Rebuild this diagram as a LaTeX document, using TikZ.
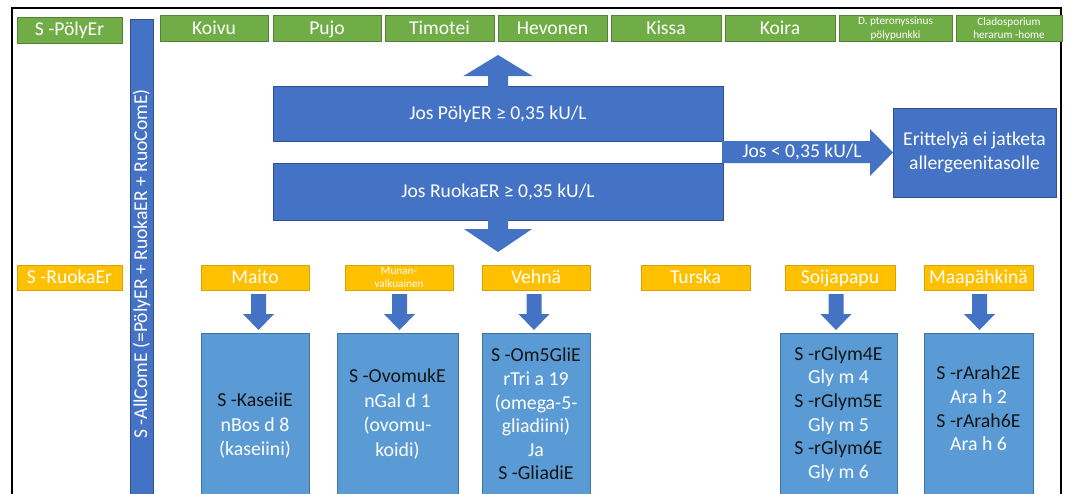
\documentclass[tikz,border=0pt]{standalone}
\usepackage{fontspec}
\setmainfont{Carlito}
\usetikzlibrary{calc}
\definecolor{dblue}{HTML}{4472C4}
\definecolor{dblueline}{HTML}{2F528F}
\definecolor{lblue}{HTML}{5B9BD5}
\definecolor{lblueline}{HTML}{41719C}
\definecolor{ogreen}{HTML}{70AD47}
\definecolor{ogreenline}{HTML}{548235}
\definecolor{oyellow}{HTML}{FFC000}
\definecolor{oyellowline}{HTML}{D9A300}
\definecolor{txtdark}{HTML}{151515}
\begin{document}
\begin{tikzpicture}[x=1pt,y=-1pt,
  base/.style={anchor=north west, inner sep=0pt, outer sep=0pt, align=center, text=white},
  bigfont/.style={font=\fontsize{19.6}{23.6}\selectfont},
  smallfont/.style={font=\fontsize{11.2}{13.2}\selectfont, text height=, text depth=},
  oneline/.style={text height=15pt, text depth=3.5pt},
  gbox/.style={base, bigfont, oneline, fill=ogreen, draw=ogreenline, line width=0.6pt, minimum height=26pt},
  ybox/.style={base, bigfont, oneline, fill=oyellow, draw=oyellowline, line width=0.5pt, minimum height=25pt},
  dbox/.style={base, bigfont, fill=dblue, draw=dblueline, line width=0.6pt},
  lbox/.style={base, fill=lblue, draw=lblueline, line width=0.6pt, minimum height=170pt},
  ltext/.style={text=white, align=center, inner sep=0pt, font=\fontsize{19.8}{#1}\selectfont},
  ltext/.default=23.6,
  barrow/.style={fill=dblue},
  lbl/.style={text=white, bigfont, inner sep=0pt},
]
\useasboundingbox (0,0) rectangle (1070,493);
\fill[white] (0,0) rectangle (1070,493);
\clip (0,0) rectangle (1070,493);
\draw[line width=2pt] (12,8) rectangle (1061,520);

% top row (pollen / animal allergens)
\node[gbox, minimum width=105pt] (polyer) at (17,17) {S -PölyEr};
\node[gbox, minimum width=108pt] (koivu) at (160,15.5) {Koivu};
\node[gbox, minimum width=108pt] (pujo) at (273,15.5) {Pujo};
\node[gbox, minimum width=109pt] (timotei) at (385,15.5) {Timotei};
\node[gbox, minimum width=109pt] (hevonen) at (498,15.5) {Hevonen};
\node[gbox, minimum width=110pt] (kissa) at (611,15.5) {Kissa};
\node[gbox, minimum width=110pt] (koira) at (725,15.5) {Koira};
\node[gbox, smallfont, minimum width=113pt] (dpter) at (839,15.5) {D. pteronyssinus\\pölypunkki};
\node[gbox, smallfont, minimum width=106pt] (clad) at (956,15.5) {Cladosporium\\herarum -home};

% vertical bar
\node[dbox, minimum width=23pt, minimum height=480pt] (bar) at (130,19) {};
\node[lbl, rotate=90] (bartxt) at (141.5,264) {S -AllComE (=PölyER + RuokaER + RuoComE)};

% central decision blocks
\node[dbox, oneline, minimum width=450pt, minimum height=55pt] (r1) at (273,86) {Jos PölyER ≥ 0,35 kU/L};
\node[dbox, oneline, minimum width=450pt, minimum height=57pt] (r2) at (273,163) {Jos RuokaER ≥ 0,35 kU/L};
\node[dbox, minimum width=163pt, minimum height=89pt] (erit) at (893,108) {Erittelyä ei jatketa\\allergeenitasolle};

% up arrow
\fill[barrow] ($(r1.north)+(-10,1)$) -- ++(0,-11) -- ++(-24.5,0) -- ($(r1.north)+(0,-31)$)
  -- ($(r1.north)+(34.5,-10)$) -- ($(r1.north)+(10,-10)$) -- ($(r1.north)+(10,1)$) -- cycle;
% down arrow
\fill[barrow] ($(r2.south)+(-10,-1)$) -- ++(0,10) -- ++(-24,0) -- ($(r2.south)+(0,32)$)
  -- ($(r2.south)+(34,9)$) -- ($(r2.south)+(10,9)$) -- ($(r2.south)+(10,-1)$) -- cycle;
% right arrow
\fill[barrow] ($(r1.south east)+(-1,0)$) -- ($(erit.west |- r1.south east)+(-23,0)$)
  -- ($(erit.west)+(-23,-23.5)$) -- (erit.west) -- ($(erit.west)+(-23,23.5)$)
  -- ($(erit.west |- r2.north east)+(-23,0)$) -- ($(r2.north east)+(-1,0)$) -- cycle;
\node[lbl, oneline] (lt) at (802,152) {Jos < 0,35 kU/L};

% food row
\node[ybox, minimum width=105pt] (ruokaer) at (17,265) {S -RuokaEr};
\node[ybox, minimum width=108pt] (maito) at (201,265) {Maito};
\node[ybox, smallfont, minimum width=108pt] (munan) at (345,265) {Munan-\\valkuainen};
\node[ybox, minimum width=108pt] (vehna) at (482,265) {Vehnä};
\node[ybox, minimum width=109pt] (turska) at (641,265) {Turska};
\node[ybox, minimum width=110pt] (soija) at (785,265) {Soijapapu};
\node[ybox, minimum width=109pt] (maap) at (924,265) {Maapähkinä};

% component boxes
\node[lbox, minimum width=108pt] (kas) at (201,333) {};
\node[lbox, minimum width=121pt] (ovo) at (337,333) {};
\node[lbox, minimum width=108pt] (gli) at (482,333) {};
\node[lbox, minimum width=117pt] (glym) at (780,333) {};
\node[lbox, minimum width=109pt] (arah) at (924,333) {};
\node[ltext=24.5] (kastxt) at ($(kas.north)+(0,93)$) {{\color{txtdark}S -KaseiiE}\\nBos d 8\\(kaseiini)};
\node[ltext=24.5] (ovotxt) at ($(ovo.north)+(0,81)$) {{\color{txtdark}S -OvomukE}\\nGal d 1\\(ovomu-\\koidi)};
\node[ltext] (glitxt) at ($(gli.north)+(0,81)$) {{\color{txtdark}S -Om5GliE}\\rTri a 19\\(omega-5-\\gliadiini)\\Ja\\{\color{txtdark}S -GliadiE}};
\node[ltext] (glymtxt) at ($(glym.north)+(0,81)$) {{\color{txtdark}S -rGlym4E}\\Gly m 4\\{\color{txtdark}S -rGlym5E}\\Gly m 5\\{\color{txtdark}S -rGlym6E}\\Gly m 6};
\node[ltext] (arahtxt) at ($(arah.north)+(0,75.5)$) {{\color{txtdark}S -rArah2E}\\Ara h 2\\{\color{txtdark}S -rArah6E}\\Ara h 6};

% small down arrows from food to components
\foreach \fy/\cm/\cx in {maito/kas/258.5, munan/ovo/399.5, vehna/gli/534, soija/glym/836, maap/arah/979.5}{
  \fill[barrow] ($(\cx,0 |- \fy.south)+(-7.5,4)$) -- ($(\cx,0 |- \fy.south)+(7.5,4)$)
    -- ($(\cx,0 |- \fy.south)+(7.5,24)$) -- ($(\cx,0 |- \fy.south)+(15.5,24)$)
    -- ($(\cx,0 |- \cm.north)+(0,-3)$)
    -- ($(\cx,0 |- \fy.south)+(-15.5,24)$) -- ($(\cx,0 |- \fy.south)+(-7.5,24)$) -- cycle;
}
\end{tikzpicture}
\end{document}
